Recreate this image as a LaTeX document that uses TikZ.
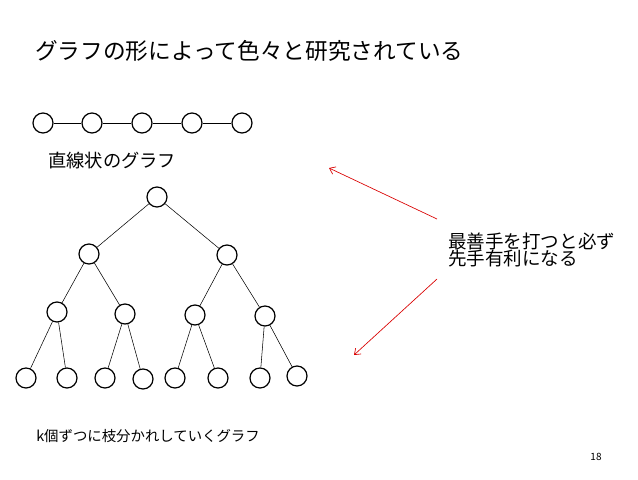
\documentclass[tikz,border=0pt]{standalone}
\usepackage{fontspec}
\setmainfont{Noto Sans CJK JP}
\usetikzlibrary{positioning}
\usetikzlibrary{arrows.meta}
\tikzset{vtx/.style={draw,circle,minimum size=15pt,inner sep=0pt,line width=0.9pt},
  txt/.style={anchor=west,inner sep=0pt},
  hint/.style={-{Straight Barb[length=4pt,width=6pt]},red!85!black,line width=0.5pt}}

\begin{document}
\begin{tikzpicture}[x=0.75pt,y=-0.75pt]
		\useasboundingbox (0,0) rectangle (638,479);
		\node[txt,font=\fontsize{17}{19}\selectfont] (title) at (35,51) {グラフの形によって色々と研究されている};
		% line graph
		\node[vtx] (L1) at (43,123) {};
		\node[vtx] (L2) at (92,123) {};
		\node[vtx] (L3) at (142,123) {};
		\node[vtx] (L4) at (192,123) {};
		\node[vtx] (L5) at (242,123) {};
		\draw (L1) -- (L2) -- (L3) -- (L4) -- (L5);
		\node[txt,font=\fontsize{13.7}{16}\selectfont] (linelab) at (48,161) {直線状のグラフ};
		% tree
		\node[vtx] (R) at (157,197) {};
		\node[vtx] (A) at (89,254) {};
		\node[vtx] (B) at (227,255) {};
		\node[vtx] (A1) at (57,312) {};
		\node[vtx] (A2) at (125,314) {};
		\node[vtx] (B1) at (195,315) {};
		\node[vtx] (B2) at (265,316) {};
		\node[vtx] (A11) at (26,378) {};
		\node[vtx] (A12) at (67,378) {};
		\node[vtx] (A21) at (105,378) {};
		\node[vtx] (A22) at (143,379) {};
		\node[vtx] (B11) at (175,378) {};
		\node[vtx] (B12) at (218,378) {};
		\node[vtx] (B21) at (260,378) {};
		\node[vtx] (B22) at (297,376) {};
		\draw (R) -- (A) (R) -- (B);
		\draw (A) -- (A1) (A) -- (A2) (B) -- (B1) (B) -- (B2);
		\draw (A1) -- (A11) (A1) -- (A12) (A2) -- (A21) (A2) -- (A22);
		\draw (B1) -- (B11) (B1) -- (B12) (B2) -- (B21) (B2) -- (B22);
		\node[txt,font=\fontsize{10.8}{13}\selectfont] (treelab) at (36,436) {k個ずつに枝分かれしていくグラフ};
		% remark with arrows
		\node[txt,font=\fontsize{13.9}{13.2}\selectfont,align=left] (note) at (448,250) {最善手を打つと必ず\\先手有利になる};
		\coordinate (up) at (437,219);
		\coordinate (down) at (437,279);
		\coordinate (linetip) at (329,168);
		\coordinate (treetip) at (354,355);
		\draw[hint] (up) -- (linetip);
		\draw[hint] (down) -- (treetip);
		\node[font=\fontsize{7.5}{9}\selectfont,inner sep=0pt] (page) at (596,457) {18};
	\end{tikzpicture}
\end{document}
